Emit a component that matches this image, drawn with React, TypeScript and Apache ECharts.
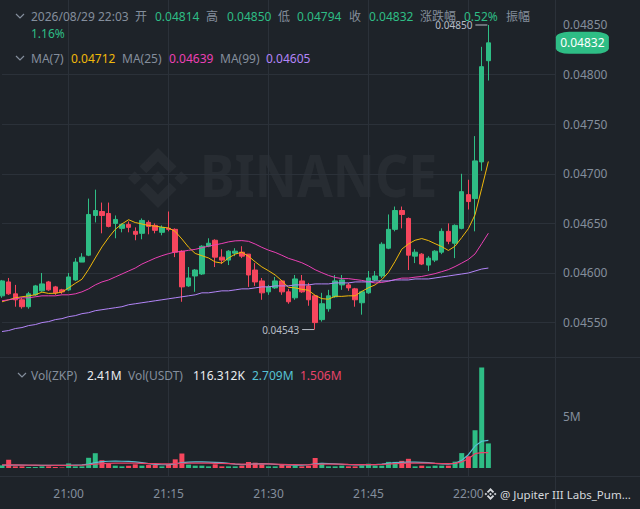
import { useEffect, useRef } from 'react';
import * as echarts from 'echarts';

const BG = '#1e2329';
const GRID = '#2b3139';
const AXIS_TEXT = '#848e9c';
const UP = '#2ebd85';
const DOWN = '#f6465d';
const MA7_C = '#f0b90b';
const MA25_C = '#eb40b5';
const MA99_C = '#b385f8';
const VMA5_C = '#56c1d4';
const VMA10_C = '#e8436a';
const FONT = '"Noto Sans", "Noto Sans CJK SC", sans-serif';

const START_TIME = '20:50';
const EMPTY_SLOTS = 10;
const PRICE_SCALE = 1e5; // prices below are written x 1e5

const opens = [
  4577, 4591, 4579, 4573, 4566, 4578, 4582, 4591, 4586, 4583,
  4583, 4593, 4611, 4618, 4658, 4662, 4660, 4650, 4645, 4649,
  4642, 4640, 4651, 4648, 4641, 4645, 4644, 4622, 4587, 4597,
  4599, 4627, 4633, 4616, 4613, 4620, 4621, 4619, 4603, 4592,
  4581, 4585, 4592, 4581, 4575, 4592, 4587, 4577, 4553, 4564,
  4576, 4588, 4588, 4584, 4570, 4580, 4593, 4597, 4625, 4644,
  4663, 4655, 4617, 4619, 4608, 4613, 4621, 4642, 4630, 4645,
  4679, 4675, 4712, 4814,
];
const closes = [
  4592, 4579, 4573, 4566, 4579, 4587, 4589, 4583, 4580, 4581,
  4596, 4611, 4616, 4659, 4663, 4658, 4647, 4654, 4649, 4646,
  4639, 4653, 4647, 4643, 4646, 4644, 4621, 4586, 4595, 4603,
  4627, 4630, 4616, 4613, 4622, 4622, 4617, 4598, 4591, 4580,
  4586, 4592, 4581, 4571, 4594, 4581, 4573, 4550, 4569, 4577,
  4592, 4593, 4585, 4573, 4581, 4595, 4597, 4629, 4644, 4663,
  4659, 4618, 4621, 4609, 4615, 4622, 4642, 4632, 4648, 4682,
  4672, 4713, 4808, 4832,
];
const lows = [
  4575, 4578, 4566, 4564, 4564, 4577, 4581, 4582, 4578, 4579,
  4582, 4592, 4611, 4617, 4651, 4640, 4646, 4635, 4641, 4641,
  4633, 4634, 4639, 4640, 4638, 4642, 4616, 4571, 4586, 4581,
  4598, 4626, 4606, 4609, 4608, 4617, 4615, 4586, 4587, 4573,
  4578, 4584, 4578, 4569, 4573, 4580, 4567, 4543, 4551, 4561,
  4575, 4583, 4582, 4566, 4558, 4579, 4592, 4595, 4624, 4642,
  4645, 4603, 4610, 4608, 4602, 4611, 4619, 4629, 4615, 4644,
  4664, 4642, 4703, 4794,
];
const highs = [
  4593, 4595, 4588, 4575, 4581, 4588, 4600, 4592, 4587, 4584,
  4600, 4615, 4620, 4675, 4684, 4671, 4671, 4658, 4650, 4652,
  4646, 4655, 4653, 4650, 4648, 4662, 4645, 4623, 4606, 4604,
  4628, 4635, 4634, 4624, 4623, 4625, 4627, 4619, 4610, 4595,
  4588, 4596, 4593, 4584, 4598, 4598, 4590, 4578, 4580, 4583,
  4598, 4598, 4590, 4585, 4582, 4602, 4602, 4631, 4659, 4667,
  4667, 4656, 4624, 4620, 4617, 4623, 4645, 4650, 4649, 4700,
  4694, 4738, 4828, 4850,
];
// volumes in millions
const volumesM = [
  0.26, 0.82, 0.16, 0.16, 0.10, 0.10, 0.16, 0.16, 0.10, 0.05,
  0.45, 0.16, 0.16, 1.00, 1.45, 0.76, 0.42, 0.23, 0.16, 0.23,
  0.36, 0.23, 0.29, 0.29, 0.16, 0.36, 0.85, 1.42, 0.33, 0.23,
  0.23, 0.16, 0.36, 0.16, 0.16, 0.16, 0.23, 0.59, 0.52, 0.36,
  0.16, 0.16, 0.29, 0.23, 0.23, 0.16, 0.23, 0.98, 0.50, 0.16,
  0.16, 0.23, 0.16, 0.16, 0.23, 0.42, 0.23, 0.23, 0.60, 0.60,
  0.70, 0.90, 0.16, 0.23, 0.16, 0.23, 0.23, 0.23, 0.62, 1.46,
  1.15, 3.70, 9.85, 2.41,
];
const ma7Lead = [4571, 4573, 4575, 4576, 4577, 4578];
const ma25Lead = [
  4572, 4573, 4574, 4575, 4575, 4576, 4577, 4577, 4577, 4578,
  4578, 4579, 4581, 4584, 4588, 4591, 4593, 4596, 4599, 4602,
  4605, 4609, 4612, 4615,
];
const ma99Values = [
  4541, 4542, 4544, 4545, 4547, 4548, 4550, 4551, 4553, 4554,
  4556, 4557, 4559, 4560, 4562, 4563, 4564, 4565, 4566, 4568,
  4569, 4570, 4571, 4572, 4573, 4574, 4575, 4576, 4577, 4578,
  4580, 4580, 4581, 4582, 4582, 4583, 4584, 4584, 4585, 4586,
  4586, 4587, 4587, 4587, 4588, 4588, 4588, 4589, 4589, 4589,
  4590, 4590, 4590, 4591, 4591, 4591, 4592, 4592, 4592, 4593,
  4593, 4593, 4594, 4594, 4594, 4595, 4596, 4597, 4598, 4599,
  4600, 4602, 4604, 4605,
];
const volMa5M = [
  0.27, 0.28, 0.28, 0.28, 0.27, 0.26, 0.26, 0.25, 0.25, 0.25,
  0.26, 0.28, 0.30, 0.38, 0.52, 0.62, 0.66, 0.67, 0.66, 0.64,
  0.60, 0.52, 0.42, 0.35, 0.32, 0.33, 0.40, 0.52, 0.58, 0.60,
  0.60, 0.58, 0.55, 0.52, 0.45, 0.38, 0.33, 0.36, 0.40, 0.42,
  0.40, 0.36, 0.32, 0.30, 0.28, 0.28, 0.32, 0.40, 0.45, 0.44,
  0.40, 0.36, 0.32, 0.30, 0.30, 0.32, 0.34, 0.38, 0.45, 0.52,
  0.56, 0.58, 0.58, 0.56, 0.52, 0.45, 0.40, 0.38, 0.45, 0.75,
  1.30, 2.15, 2.62, 2.709,
];
const volMa10M = [
  0.30, 0.30, 0.30, 0.29, 0.28, 0.28, 0.27, 0.27, 0.26, 0.26,
  0.26, 0.27, 0.28, 0.32, 0.38, 0.42, 0.45, 0.47, 0.48, 0.48,
  0.47, 0.45, 0.43, 0.42, 0.40, 0.40, 0.42, 0.45, 0.47, 0.48,
  0.48, 0.47, 0.46, 0.45, 0.43, 0.40, 0.38, 0.38, 0.39, 0.40,
  0.40, 0.38, 0.36, 0.34, 0.33, 0.32, 0.33, 0.36, 0.38, 0.39,
  0.38, 0.37, 0.35, 0.34, 0.33, 0.33, 0.34, 0.35, 0.38, 0.42,
  0.45, 0.47, 0.48, 0.48, 0.47, 0.45, 0.43, 0.42, 0.45, 0.60,
  0.90, 1.40, 1.50, 1.506,
];

const headerDate = '2026/08/29 22:03';
const headerItems = [
  { label: '开', value: '0.04814', lx: 135, vx: 155 },
  { label: '高', value: '0.04850', lx: 206, vx: 227 },
  { label: '低', value: '0.04794', lx: 278, vx: 297 },
  { label: '收', value: '0.04832', lx: 349, vx: 369 },
  { label: '涨跌幅', value: '0.52%', lx: 420, vx: 464 },
];
const amplitudeLabel = '振幅';
const amplitudeValue = '1.16%';
const maLegend = [
  { label: 'MA(7)', value: '0.04712', color: MA7_C, lx: 31, vx: 71 },
  { label: 'MA(25)', value: '0.04639', color: MA25_C, lx: 122, vx: 169 },
  { label: 'MA(99)', value: '0.04605', color: MA99_C, lx: 220, vx: 266 },
];
const volLegend = [
  { text: 'Vol(ZKP)', color: AXIS_TEXT, x: 31 },
  { text: '2.41M', color: '#eaecef', x: 87 },
  { text: 'Vol(USDT)', color: AXIS_TEXT, x: 128 },
  { text: '116.312K', color: '#eaecef', x: 193 },
  { text: '2.709M', color: VMA5_C, x: 252 },
  { text: '1.506M', color: VMA10_C, x: 300 },
];
const watermarkUser = '@ Jupiter III Labs_Pum...';

const LOGO_PATH =
  'M38.73 53.2L63.3 28.62L87.9 53.22L102.2 38.91L63.3 0L24.42 38.9Z ' +
  'M0 63.3L14.3 49L28.6 63.3L14.3 77.6Z ' +
  'M38.73 73.41L63.3 98L87.9 73.4L102.21 87.69L63.3 126.61L24.42 87.73Z ' +
  'M98 63.3L112.3 49L126.6 63.3L112.3 77.6Z ' +
  'M77.83 63.3L63.3 48.78L48.8 63.3L63.3 77.81Z';

let logoRegistered = false;
function ensureLogo() {
  if (logoRegistered) return;
  echarts.graphic.registerShape('binanceLogo', echarts.graphic.extendPath(LOGO_PATH, {}) as any);
  logoRegistered = true;
}

function buildTimes(count: number) {
  const [h, m] = START_TIME.split(':').map(Number);
  const out: string[] = [];
  for (let i = 0; i < count; i++) {
    const t = h * 60 + m + i;
    out.push(String(Math.floor(t / 60) % 24).padStart(2, '0') + ':' + String(t % 60).padStart(2, '0'));
  }
  return out;
}

function movingAverage(src: number[], n: number, lead: number[]) {
  return src.map((_, i) => {
    if (i < n - 1) return lead[i];
    let s = 0;
    for (let k = i - n + 1; k <= i; k++) s += src[k];
    return s / n;
  });
}

function txt(x: number, y: number, text: string, color: string, size = 12, extra: any = {}) {
  return {
    type: 'text',
    x,
    y,
    z: 100,
    silent: true,
    style: { text, fill: color, fontSize: size, fontFamily: FONT, align: 'left', verticalAlign: 'middle', ...extra },
  };
}

function chevron(x: number, y: number) {
  return {
    type: 'polyline',
    z: 100,
    silent: true,
    shape: { points: [[x, y - 2], [x + 4, y + 2], [x + 8, y - 2]] },
    style: { stroke: AXIS_TEXT, lineWidth: 1.2, fill: 'none' },
  };
}

export default function App() {
  const ref = useRef<HTMLDivElement>(null);

  useEffect(() => {
    ensureLogo();
    const chart = echarts.init(ref.current!, null, { renderer: 'svg' });

    const n = opens.length;
    const times = buildTimes(n + EMPTY_SLOTS);
    const isQuarter = (idx: number) => {
      const t = times[idx];
      return !!t && Number(t.slice(3)) % 15 === 0;
    };
    const toPrice = (v: number) => v / PRICE_SCALE;

    const candleData = opens.map((o, i) => [toPrice(o), toPrice(closes[i]), toPrice(lows[i]), toPrice(highs[i])]);
    const ma7 = movingAverage(closes, 7, ma7Lead).map(toPrice);
    const ma25 = movingAverage(closes, 25, ma25Lead).map(toPrice);
    const ma99 = ma99Values.map(toPrice);

    let hiIdx = 0;
    let loIdx = 0;
    highs.forEach((h, i) => { if (h > highs[hiIdx]) hiIdx = i; });
    lows.forEach((l, i) => { if (l < lows[loIdx]) loIdx = i; });
    const lastIdx = n - 1;
    const lastClose = toPrice(closes[lastIdx]);

    const markerStyle = { color: '#b7bdc6' };
    const extremeMarker = (idx: number, val: number) => ({
      coord: [idx, val],
      symbol: 'rect',
      symbolSize: [12, 1],
      symbolOffset: [-7, 0],
      itemStyle: markerStyle,
      label: {
        show: true,
        position: 'left',
        distance: 3,
        formatter: val.toFixed(5),
        color: '#b7bdc6',
        fontSize: 10,
        fontFamily: FONT,
      },
    });

    const priceSplitColors = ['rgba(0,0,0,0)', GRID, GRID, GRID, GRID, GRID, GRID, 'rgba(0,0,0,0)', 'rgba(0,0,0,0)'];

    const xAxisBase = (gridIndex: number, showLabels: boolean) => ({
      type: 'category',
      gridIndex,
      data: times,
      boundaryGap: false,
      axisLine: { show: false },
      axisTick: { show: false },
      axisLabel: showLabels
        ? { show: true, interval: (idx: number) => isQuarter(idx), color: AXIS_TEXT, fontSize: 12, margin: 11, fontFamily: FONT }
        : { show: false },
      splitLine: { show: true, interval: (idx: number) => isQuarter(idx), lineStyle: { color: GRID, width: 1 } },
    });

    const option: any = {
      animation: false,
      backgroundColor: BG,
      textStyle: { fontFamily: FONT },
      grid: [
        { left: 2, right: 85, top: 0, height: 372.2 },
        { left: 2, right: 85, top: 358, height: 110 },
        { left: 2, right: 85, top: 468, height: 8.5 },
      ],
      xAxis: [xAxisBase(0, false), xAxisBase(1, false), xAxisBase(2, true)],
      yAxis: [
        {
          type: 'value',
          gridIndex: 0,
          position: 'right',
          min: 0.045,
          max: 0.048752,
          interval: 0.0005,
          axisLine: { show: false },
          axisTick: { show: false },
          axisLabel: {
            color: AXIS_TEXT,
            fontSize: 12,
            margin: 8,
            fontFamily: FONT,
            formatter: (v: number) => (v > 0.04549 && v < 0.04851 ? v.toFixed(5) : ''),
          },
          splitLine: { show: true, lineStyle: { color: priceSplitColors, width: 1 } },
        },
        {
          type: 'value',
          gridIndex: 1,
          position: 'right',
          min: 0,
          max: 10.78e6,
          interval: 5e6,
          axisLine: { show: false },
          axisTick: { show: false },
          splitLine: { show: false },
          axisLabel: {
            color: AXIS_TEXT,
            fontSize: 12,
            margin: 8,
            fontFamily: FONT,
            formatter: (v: number) => (Math.abs(v - 5e6) < 1 ? '5M' : ''),
          },
        },
        { type: 'value', gridIndex: 2, show: false, min: 0, max: 1 },
      ],
      series: [
        {
          type: 'candlestick',
          xAxisIndex: 0,
          yAxisIndex: 0,
          data: candleData,
          barWidth: 5,
          clip: false,
          itemStyle: { color: UP, color0: DOWN, borderColor: UP, borderColor0: DOWN, borderWidth: 1 },
          markPoint: {
            silent: true,
            animation: false,
            data: [
              extremeMarker(hiIdx, toPrice(highs[hiIdx])),
              extremeMarker(loIdx, toPrice(lows[loIdx])),
              {
                coord: [lastIdx, lastClose],
                symbol: 'roundRect',
                symbolSize: [53, 22],
                symbolOffset: [94, 0],
                itemStyle: { color: UP },
                label: {
                  show: true,
                  position: 'inside',
                  formatter: lastClose.toFixed(5),
                  color: '#ffffff',
                  fontSize: 12,
                  fontFamily: FONT,
                },
              },
            ],
          },
        },
        { type: 'line', xAxisIndex: 0, yAxisIndex: 0, data: ma7, symbol: 'none', lineStyle: { color: MA7_C, width: 1 } },
        { type: 'line', xAxisIndex: 0, yAxisIndex: 0, data: ma25, symbol: 'none', lineStyle: { color: MA25_C, width: 1 } },
        { type: 'line', xAxisIndex: 0, yAxisIndex: 0, data: ma99, symbol: 'none', lineStyle: { color: MA99_C, width: 1 } },
        {
          type: 'bar',
          xAxisIndex: 1,
          yAxisIndex: 1,
          barWidth: 5,
          data: volumesM.map((v, i) => ({
            value: v * 1e6,
            itemStyle: { color: closes[i] >= opens[i] ? UP : DOWN },
          })),
        },
        { type: 'line', xAxisIndex: 1, yAxisIndex: 1, data: volMa5M.map((v) => v * 1e6), symbol: 'none', lineStyle: { color: VMA5_C, width: 1.2 } },
        { type: 'line', xAxisIndex: 1, yAxisIndex: 1, data: volMa10M.map((v) => v * 1e6), symbol: 'none', lineStyle: { color: VMA10_C, width: 1.2 } },
      ],
      graphic: [
        // panel separators
        { type: 'line', silent: true, z: 1, shape: { x1: 0, y1: 357.5, x2: 640, y2: 357.5 }, style: { stroke: GRID, lineWidth: 1 } },
        { type: 'line', silent: true, z: 1, shape: { x1: 0, y1: 476.5, x2: 640, y2: 476.5 }, style: { stroke: GRID, lineWidth: 1 } },
        { type: 'line', silent: true, z: 1, shape: { x1: 555.5, y1: 0, x2: 555.5, y2: 509 }, style: { stroke: GRID, lineWidth: 1 } },
        // big watermark
        { type: 'binanceLogo', silent: true, z: 0, x: 128, y: 148, scaleX: 0.474, scaleY: 0.474, style: { fill: 'rgba(255,255,255,0.045)' } },
        {
          type: 'text',
          silent: true,
          z: 0,
          x: 200,
          y: 174,
          scaleX: 0.88,
          style: { text: 'BINANCE', fill: 'rgba(255,255,255,0.045)', fontSize: 59, fontWeight: 'bold', fontFamily: FONT, align: 'left', verticalAlign: 'middle' },
        },
        // header
        chevron(16, 16),
        txt(31, 16, headerDate, AXIS_TEXT),
        ...headerItems.flatMap((h) => [txt(h.lx, 16, h.label, AXIS_TEXT), txt(h.vx, 16, h.value, UP)]),
        txt(506, 16, amplitudeLabel, AXIS_TEXT),
        txt(31, 33, amplitudeValue, UP),
        chevron(16, 58),
        ...maLegend.flatMap((m) => [txt(m.lx, 58, m.label, AXIS_TEXT), txt(m.vx, 58, m.value, m.color)]),
        chevron(18, 375),
        ...volLegend.map((v) => txt(v.x, 375, v.text, v.color)),
        // footer watermark
        { type: 'binanceLogo', silent: true, z: 100, x: 484.5, y: 488, scaleX: 0.095, scaleY: 0.095, style: { fill: '#d5d8dc' } },
        txt(500, 494, watermarkUser, '#d5d8dc', 11.5),
      ],
    };

    chart.setOption(option);
    return () => chart.dispose();
  }, []);

  return (
    <div
      ref={ref}
      style={{ position: 'fixed', left: 0, top: 0, width: 640, height: 509, background: BG }}
    />
  );
}
